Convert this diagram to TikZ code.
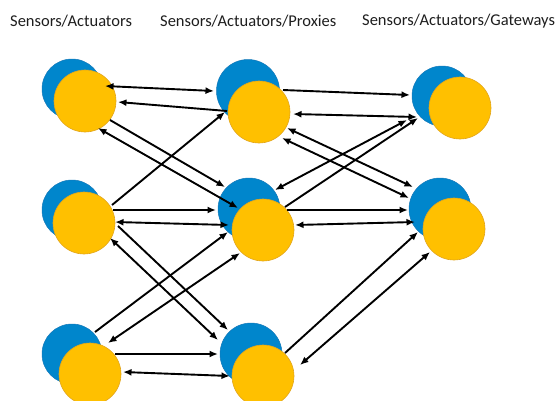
\documentclass[tikz,border=0pt]{standalone}
\usepackage{fontspec}
\setmainfont{Carlito}
\usetikzlibrary{arrows.meta,calc}
\definecolor{nodeblue}{RGB}{0,134,204}
\definecolor{blueedge}{RGB}{20,120,185}
\definecolor{nodegold}{RGB}{255,192,0}
\definecolor{goldedge}{RGB}{225,165,30}
\definecolor{labeltext}{RGB}{30,30,30}
\begin{document}
\begin{tikzpicture}[x=1pt,y=-1pt,
  blueball/.style={circle,fill=nodeblue,draw=blueedge,line width=0.5pt,minimum size=#1,inner sep=0pt},
  goldball/.style={circle,fill=nodegold,draw=goldedge,line width=0.6pt,minimum size=#1,inner sep=0pt},
  uni/.style={line width=1.9pt,-{Latex[length=8.5pt,width=7pt]}},
  bi/.style={line width=1.9pt,{Latex[length=8.5pt,width=7pt]}-{Latex[length=8.5pt,width=7pt]}},
  layer/.style={font=\fontsize{16.5}{18}\selectfont,text=labeltext,anchor=west,inner sep=0pt}]
\useasboundingbox (0,0) rectangle (556,400);

% column headings
\node[layer] (h1) at (10,21) {Sensors/Actuators};
\node[layer] (h2) at (160,21) {Sensors/Actuators/Proxies};
\node[layer] (h3) at (362,21) {Sensors/Actuators/Gateways};

% back (blue) discs
\node[blueball=60pt] (A1b) at (72,89) {};
\node[blueball=60pt] (A2b) at (72,210) {};
\node[blueball=60pt] (A3b) at (72,354) {};
\node[blueball=63pt] (B1b) at (248,91) {};
\node[blueball=62pt] (B2b) at (249,209) {};
\node[blueball=62pt] (B3b) at (251,354) {};
\node[blueball=60pt] (C1b) at (442,96) {};
\node[blueball=62pt] (C2b) at (440,209) {};

% front (gold) discs
\node[goldball=62pt] (A1y) at (85,101) {};
\node[goldball=62pt] (A2y) at (84,223) {};
\node[goldball=62pt] (A3y) at (90,374) {};
\node[goldball=62pt] (B1y) at (259,112) {};
\node[goldball=62pt] (B2y) at (263,230) {};
\node[goldball=62pt] (B3y) at (263,376) {};
\node[goldball=62pt] (C1y) at (460,108) {};
\node[goldball=62pt] (C2y) at (454,229) {};

% first column to second column
\draw[bi]  ($(A1y)+(20,-15)$) -- ($(B1b)+(-34,0)$);
\draw[uni] ($(B1y)+(-32,-1)$) -- ($(A1y)+(33,1)$);
\draw[uni] ($(A1y)+(25,19)$) -- ($(B2b)+(-24,-22)$);
\draw[bi]  ($(A1y)+(13,27)$) -- ($(B2y)+(-25,-22)$);
\draw[uni] ($(A2y)+(28,-18)$) -- ($(B1y)+(-34,0)$);
\draw[uni] ($(A2y)+(29,-13)$) -- ($(B2b)+(-33,1)$);
\draw[bi]  ($(A2y)+(31,-1)$) -- ($(B2y)+(-34,-5)$);
\draw[uni] ($(A2y)+(34,3)$) -- ($(B3b)+(-23,-24)$);
\draw[bi]  ($(A2y)+(26,15)$) -- ($(B3b)+(-33,-14)$);
\draw[uni] ($(A3b)+(23,-22)$) -- ($(B2y)+(-35,2)$);
\draw[bi]  ($(A3y)+(18,-31)$) -- ($(B2y)+(-23,23)$);
\draw[uni] ($(A3y)+(25,-20)$) -- ($(B3b)+(-33,0)$);
\draw[bi]  ($(A3y)+(33,-2)$) -- ($(B3y)+(-33,0)$);

% second column to third column
\draw[uni] ($(B1b)+(35,-1)$) -- ($(C1b)+(-32,-1)$);
\draw[bi]  ($(B1y)+(34,2)$) -- ($(C1b)+(-25,21)$);
\draw[bi]  ($(B1y)+(28,16)$) -- ($(C2b)+(-27,-22)$);
\draw[bi]  ($(B1y)+(23,26)$) -- ($(C2b)+(-31,-11)$);
\draw[bi]  ($(B2b)+(26,-19)$) -- ($(C1b)+(-35,24)$);
\draw[uni] ($(B2y)+(22,-23)$) -- ($(C1b)+(-24,22)$);
\draw[uni] ($(B2y)+(24,-20)$) -- ($(C2b)+(-32,1)$);
\draw[bi]  ($(B2y)+(32,-5)$) -- ($(C2b)+(-25,13)$);
\draw[uni] ($(B3b)+(34,-1)$) -- ($(C2y)+(-36,3)$);
\draw[bi]  ($(B3y)+(37,-11)$) -- ($(C2y)+(-24,23)$);
\end{tikzpicture}
\end{document}
